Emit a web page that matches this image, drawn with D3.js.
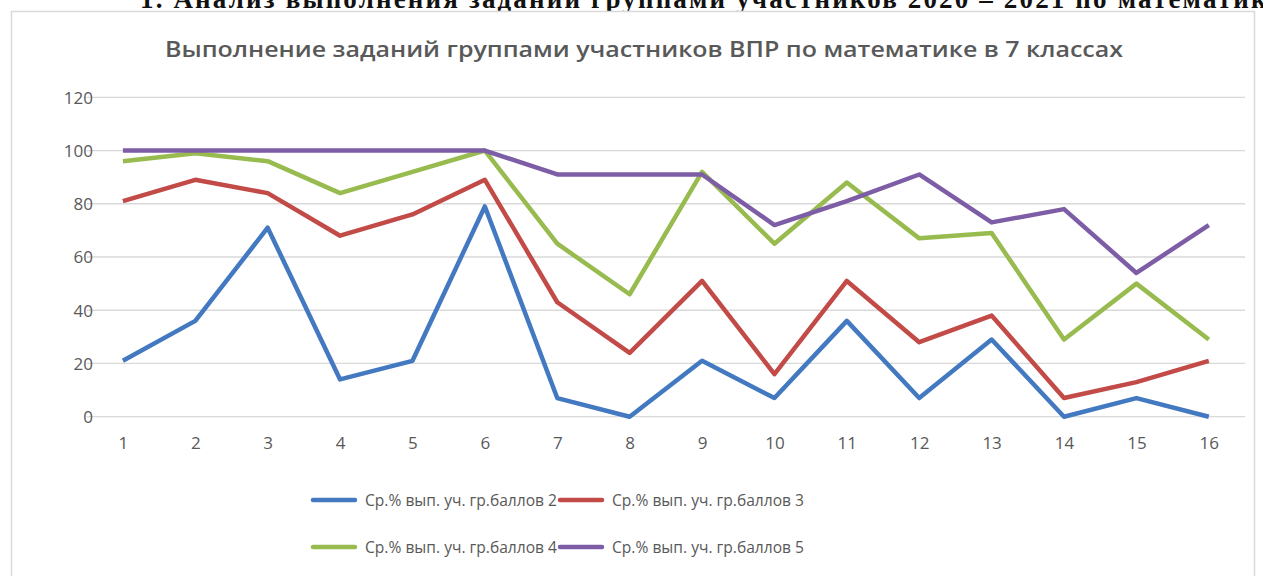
<!DOCTYPE html>
<html lang="ru">
<head>
<meta charset="UTF-8">
<title>ВПР математика 7 класс</title>
<script src="https://d3js.org/d3.v7.min.js"></script>
<style>
    body { margin: 0; background: #fff; }
    svg { display: block; }
    .tick-label { font-family: "Open Sans", "Noto Sans", sans-serif; font-size: 17px; fill: #595959; }
    .legend-label { font-family: "Open Sans", "Noto Sans", sans-serif; font-size: 17px; fill: #595959; }
</style>
</head>
<body>
<svg width="1263" height="576"></svg>
<script>
    const tasks = ["1","2","3","4","5","6","7","8","9","10","11","12","13","14","15","16"];
    const yTicks = [0, 20, 40, 60, 80, 100, 120];

    const grade2 = [21, 36, 71, 14, 21, 79, 7, 0, 21, 7, 36, 7, 29, 0, 7, 0];
    const grade3 = [81, 89, 84, 68, 76, 89, 43, 24, 51, 16, 51, 28, 38, 7, 13, 21];
    const grade4 = [96, 99, 96, 84, 92, 100, 65, 46, 92, 65, 88, 67, 69, 29, 50, 29];
    const grade5 = [100, 100, 100, 100, 100, 100, 91, 91, 91, 72, 81, 91, 73, 78, 54, 72];

    const seriesNames = [
        "Ср.% вып. уч. гр.баллов 2",
        "Ср.% вып. уч. гр.баллов 3",
        "Ср.% вып. уч. гр.баллов 4",
        "Ср.% вып. уч. гр.баллов 5"
    ];
    const seriesColors = ["#4279c0", "#c24a47", "#98bb4f", "#7d5ea6"];
    const allSeries = [grade2, grade3, grade4, grade5];

    const chartTitle = "Выполнение заданий группами участников ВПР по математике в 7 классах";
    const pageHeading = "1. Анализ выполнения заданий группами участников 2020 – 2021 по математике";

    const svg = d3.select("svg");

    // heading of the document page, cropped at the top like in the scan
    svg.append("text")
        .attr("x", 140)
        .attr("y", 8)
        .style("font-family", "'Liberation Serif', serif")
        .style("font-weight", "bold")
        .style("font-size", "27px")
        .attr("fill", "#111")
        .attr("textLength", 1140)
        .attr("lengthAdjust", "spacing")
        .text(pageHeading);

    // chart frame
    svg.append("rect")
        .attr("x", 11.5).attr("y", 11.5)
        .attr("width", 1243).attr("height", 580)
        .attr("fill", "#fff")
        .attr("stroke", "#d9d9d9")
        .attr("stroke-width", 1.5);

    const x = d3.scalePoint().domain(tasks).range([86.7, 1245]).padding(0.5);
    const y = d3.scaleLinear().domain([0, 120]).range([416.7, 97.3]);

    // gridlines
    svg.append("g")
        .selectAll("line")
        .data(yTicks)
        .join("line")
        .attr("x1", 86.7).attr("x2", 1245)
        .attr("y1", d => y(d)).attr("y2", d => y(d))
        .attr("stroke", "#d9d9d9")
        .attr("stroke-width", 1.3);

    // y axis labels
    const yAxis = svg.append("g")
        .attr("transform", "translate(93,0)")
        .call(d3.axisLeft(y).tickValues(yTicks).tickSize(0).tickPadding(0));
    yAxis.select(".domain").remove();
    yAxis.selectAll("text").attr("class", "tick-label").attr("dy", "0.35em");

    // x axis labels
    const xAxis = svg.append("g")
        .attr("transform", "translate(0,437)")
        .call(d3.axisBottom(x).tickSize(0).tickPadding(0));
    xAxis.select(".domain").remove();
    xAxis.selectAll("text").attr("class", "tick-label").attr("dy", "0.71em");

    const line = d3.line()
        .x((d, i) => x(tasks[i]))
        .y(d => y(d));

    allSeries.forEach((s, k) => {
        svg.append("path")
            .datum(s)
            .attr("d", line)
            .attr("fill", "none")
            .attr("stroke", seriesColors[k])
            .attr("stroke-width", 4.5)
            .attr("stroke-linejoin", "round");
    });

    // title (Calibri-like narrow text squeezed to the scan's width)
    svg.append("text")
        .attr("x", 165)
        .attr("y", 57)
        .style("font-family", "'Open Sans', 'Noto Sans', sans-serif")
        .style("font-weight", "600")
        .style("font-size", "22px")
        .attr("fill", "#595959")
        .attr("textLength", 958)
        .attr("lengthAdjust", "spacingAndGlyphs")
        .text(chartTitle);

    // legend
    const legendPos = [
        { lx: 313, ly: 500 }, { lx: 560, ly: 500 },
        { lx: 313, ly: 547 }, { lx: 560, ly: 547 }
    ];
    const legend = svg.append("g");
    seriesNames.forEach((name, k) => {
        const p = legendPos[k];
        legend.append("line")
            .attr("x1", p.lx).attr("x2", p.lx + 42)
            .attr("y1", p.ly).attr("y2", p.ly)
            .attr("stroke", seriesColors[k])
            .attr("stroke-width", 4.5)
            .attr("stroke-linecap", "round");
        legend.append("text")
            .attr("class", "legend-label")
            .attr("x", p.lx + 52)
            .attr("y", p.ly)
            .attr("dy", "0.35em")
            .attr("textLength", 192)
            .attr("lengthAdjust", "spacingAndGlyphs")
            .text(name);
    });
</script>
</body>
</html>
